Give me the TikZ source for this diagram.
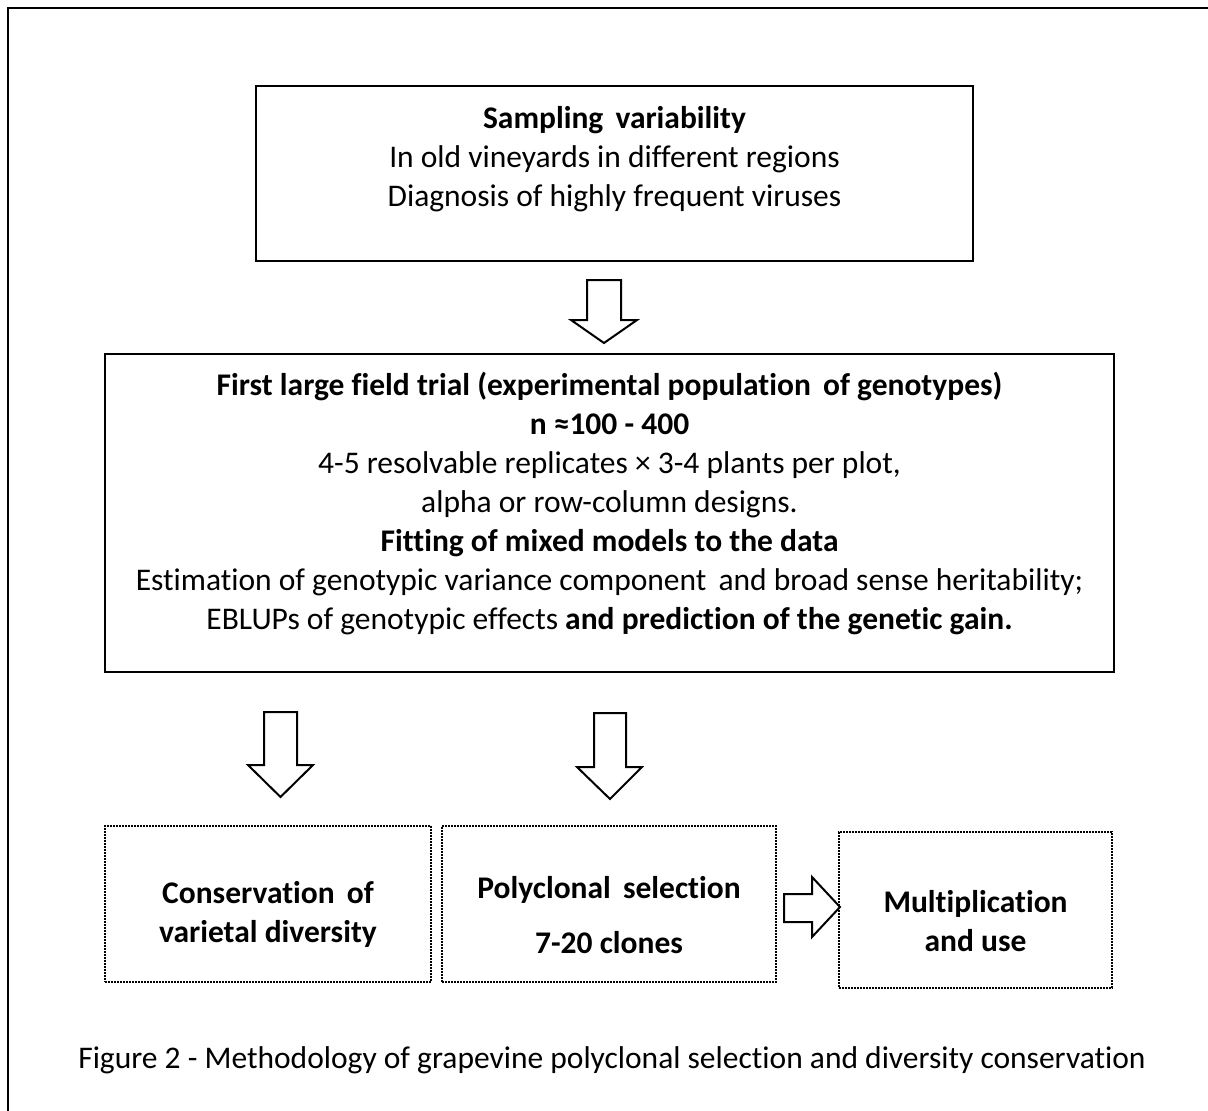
\documentclass[tikz,border=0pt]{standalone}
\usepackage{fontspec}
\setmainfont[Ligatures=NoCommon]{Carlito}
\begin{document}
\begin{tikzpicture}[x=1pt,y=-1pt,
  solidbox/.style={draw, line width=2pt, inner sep=0pt},
  dotbox/.style={draw, line width=2pt, dash pattern=on 1.6pt off 1.4pt, inner sep=0pt},
  blockarrow/.style={draw, line width=2pt, fill=white, line join=miter},
  txt/.style={align=center, inner sep=0pt, font=\fontsize{31.5}{39}\selectfont}
]
\useasboundingbox (0,0) rectangle (1208,1111);
% outer frame
\draw[line width=2pt] (8,1111) -- (8,8) -- (1208,8);

% boxes
\node[solidbox, minimum width=717pt, minimum height=175pt] (b1) at (614.5,173.5) {};
\node[solidbox, minimum width=1009pt, minimum height=318pt] (b2) at (609.5,513) {};
\node[dotbox, minimum width=326pt, minimum height=156pt] (b3) at (268,904) {};
\node[dotbox, minimum width=334pt, minimum height=156pt] (b4) at (609,904) {};
\node[dotbox, minimum width=273pt, minimum height=156pt] (b5) at (975.5,910) {};

% texts
\node[txt] (t1) at (614.5,159) {\textbf{Sampling\hspace{5pt} variability}\\In old vineyards in different regions\\Diagnosis of highly frequent viruses};
\node[txt] (t2) at (609.5,503.5) {\textbf{First large field trial (experimental population\hspace{5pt} of genotypes)}\\
\textbf{n ≈100 - 400}\\
4-5 resolvable replicates × 3-4 plants per plot,\\
alpha or row-column designs.\\
\textbf{Fitting of mixed models to the data}\\
Estimation of genotypic variance component\hspace{5pt} and broad sense heritability;\\
EBLUPs of genotypic effects \textbf{and prediction of the genetic gain.}};
\node[txt, font=\fontsize{31.5}{39}\selectfont\bfseries] (t3) at (268,914) {Conservation\hspace{5pt} of\\varietal diversity};
\node[txt, font=\fontsize{31.5}{39}\selectfont\bfseries] (t4) at (609,915) {Polyclonal\hspace{5pt} selection\\[16pt]7-20 clones};
\node[txt, font=\fontsize{31.5}{39}\selectfont\bfseries] (t5) at (975.5,921) {Multiplication\\and use};
\node[txt] (cap) at (612,1060) {Figure 2 - Methodology of grapevine polyclonal selection and diversity conservation};

% block arrows (down)
\draw[blockarrow] (587,280) -- (621,280) -- (621,320) -- (637,320) -- (604,343) -- (571,320) -- (587,320) -- cycle;
\draw[blockarrow] (264,712) -- (297,712) -- (297,765) -- (313,765) -- (280.5,797) -- (248,765) -- (264,765) -- cycle;
\draw[blockarrow] (594,713) -- (626,713) -- (626,767) -- (642,767) -- (610,799) -- (577,767) -- (594,767) -- cycle;
% block arrow (right)
\draw[blockarrow] (784,894) -- (812,894) -- (812,877) -- (840,907) -- (812,937) -- (812,922) -- (784,922) -- cycle;
\end{tikzpicture}
\end{document}
